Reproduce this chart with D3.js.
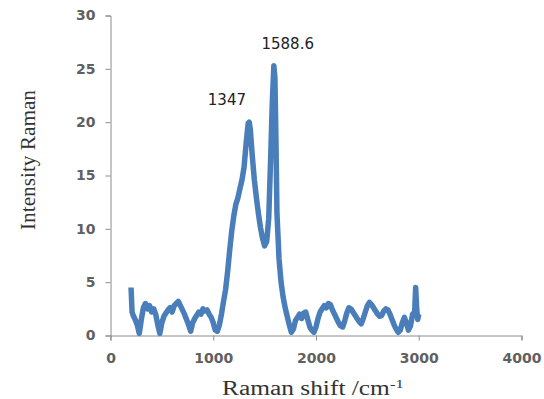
<!DOCTYPE html>
<html>
<head>
<meta charset="utf-8">
<script src="https://cdn.jsdelivr.net/npm/d3@7"></script>
<style>
  body { margin: 0; background: #fff; }
</style>
</head>
<body>
<script>
// chart size
var width = 544;
var height = 399;

// Raman spectrum
var shift = [200, 210, 220, 240, 260, 280, 300, 320, 340, 360, 380, 400, 420, 440, 460, 480,
  500, 520, 540, 560, 580, 600, 620, 640, 660, 680, 700, 720, 740, 760, 780,
  800, 820, 840, 860, 880, 900, 920, 940, 960, 980, 1000, 1020, 1040, 1060, 1080,
  1100, 1120, 1140, 1160, 1180, 1200, 1220, 1240, 1260, 1280, 1300, 1320, 1340, 1350, 1360,
  1380, 1400, 1420, 1440, 1460, 1480, 1500, 1520, 1540, 1560, 1575, 1590, 1600, 1610, 1620,
  1640, 1660, 1680, 1700, 1720, 1740, 1760, 1780, 1800, 1820, 1840, 1860, 1880, 1900,
  1920, 1940, 1960, 1980, 2000, 2020, 2040, 2060, 2080, 2100, 2120, 2140, 2160, 2180,
  2200, 2220, 2240, 2260, 2280, 2300, 2320, 2340, 2360, 2380, 2400, 2420, 2440, 2460,
  2480, 2500, 2520, 2540, 2560, 2580, 2600, 2620, 2640, 2660, 2680, 2700, 2720, 2740,
  2760, 2780, 2800, 2820, 2840, 2860, 2880, 2900, 2920, 2940, 2960, 2970, 2980, 2990, 3000];
var intensity = [4.5, 2.2, 1.9, 1.5, 1.0, 0.2, 1.5, 2.6, 3.0, 2.5, 2.8, 2.2, 2.5, 2.0, 1.0, 0.2,
  1.2, 1.8, 2.1, 2.4, 2.6, 2.2, 2.8, 3.0, 3.2, 2.8, 2.4, 2.0, 1.5, 1.0, 0.4,
  1.2, 1.6, 1.9, 2.2, 2.0, 2.5, 2.3, 2.4, 2.0, 1.7, 1.2, 0.5, 0.4, 1.0, 2.0,
  3.2, 4.3, 6.0, 8.0, 9.8, 11.2, 12.3, 12.9, 13.8, 14.6, 15.8, 18.0, 19.9, 20.0, 19.4,
  16.8, 14.6, 12.9, 11.4, 10.1, 9.1, 8.4, 8.8, 11.0, 17.0, 22.0, 25.3, 24.2, 18.5, 11.5,
  7.2, 5.0, 3.6, 2.6, 1.8, 1.0, 0.3, 0.6, 1.4, 1.7, 2.0, 1.6, 2.1, 2.2,
  1.5, 0.8, 0.5, 0.3, 0.8, 1.6, 2.2, 2.5, 2.8, 2.6, 3.0, 2.9, 2.4, 2.0,
  1.6, 1.2, 0.9, 0.8, 1.4, 2.1, 2.6, 2.5, 2.2, 1.9, 1.6, 1.3, 1.1, 1.6,
  2.2, 2.8, 3.1, 2.9, 2.6, 2.3, 2.0, 1.8, 1.9, 2.3, 2.5, 2.4, 2.0, 1.5,
  1.0, 0.6, 0.3, 0.5, 1.2, 1.7, 1.2, 0.5, 0.9, 2.0, 2.2, 4.5, 2.5, 1.5, 2.0];

// axis ticks
var xTicks = [0, 1000, 2000, 3000, 4000];
var yTicks = [0, 5, 10, 15, 20, 25, 30];

// peak labels
var peakLabels = ["1347", "1588.6"];
var peakShift = [1347, 1588.6];
var peakIntensity = [20.0, 25.3];

var svg = d3.select('body').append('svg')
  .attr('width', width)
  .attr('height', height);

var x = d3.scaleLinear().domain([0, 4000]).range([110.5, 521.5]);
var y = d3.scaleLinear().domain([0, 30]).range([335.5, 15.5]);

// y axis
var yAxis = svg.append('g')
  .attr('transform', 'translate(' + x(0) + ',0)')
  .call(d3.axisLeft(y).tickValues(yTicks).tickSize(5).tickPadding(10));
yAxis.selectAll('text')
  .style('font-family', 'DejaVu Sans')
  .style('font-size', '14px')
  .style('font-weight', 'bold')
  .style('fill', '#606060');

// x axis
var xAxis = svg.append('g')
  .attr('transform', 'translate(0,' + y(0) + ')')
  .call(d3.axisBottom(x).tickValues(xTicks).tickFormat(d3.format('d')).tickSize(5).tickPadding(13));
xAxis.selectAll('text')
  .style('font-family', 'DejaVu Sans')
  .style('font-size', '14px')
  .style('font-weight', 'bold')
  .style('fill', '#606060');

svg.selectAll('.domain, .tick line')
  .attr('stroke', '#8c8c8c');

// the spectrum
var line = d3.line()
  .x((d, i) => x(shift[i]))
  .y(d => y(d));

svg.append('path')
  .datum(intensity)
  .attr('d', line)
  .attr('fill', 'none')
  .attr('stroke', '#4a7ebb')
  .attr('stroke-width', 5.5)
  .attr('stroke-linejoin', 'round');

// peak labels
svg.selectAll('.peak')
  .data(peakLabels)
  .enter()
  .append('text')
  .attr('class', 'peak')
  .attr('x', (d, i) => x(peakShift[i]) + (i == 0 ? -22 : 14))
  .attr('y', (d, i) => y(peakIntensity[i]) - 17)
  .attr('text-anchor', 'middle')
  .style('font-family', 'DejaVu Sans')
  .style('font-size', '15px')
  .style('fill', '#222')
  .text(d => d);

// axis titles (the original is a bit stretched, so fit the lengths)
svg.append('text')
  .attr('transform', 'translate(35,160) rotate(-90)')
  .attr('text-anchor', 'middle')
  .attr('textLength', 140)
  .attr('lengthAdjust', 'spacingAndGlyphs')
  .style('font-family', 'Liberation Serif')
  .style('font-size', '20px')
  .style('fill', '#333')
  .text('Intensity Raman');

var xTitle = svg.append('text')
  .attr('x', 222)
  .attr('y', 395)
  .attr('transform', 'translate(222,0) scale(1.27,1) translate(-222,0)')
  .style('font-family', 'Liberation Serif')
  .style('font-size', '20px')
  .style('fill', '#333');
xTitle.append('tspan').text('Raman shift /cm');
xTitle.append('tspan')
  .attr('dy', -7)
  .style('font-size', '13px')
  .text('-1');
</script>
</body>
</html>
